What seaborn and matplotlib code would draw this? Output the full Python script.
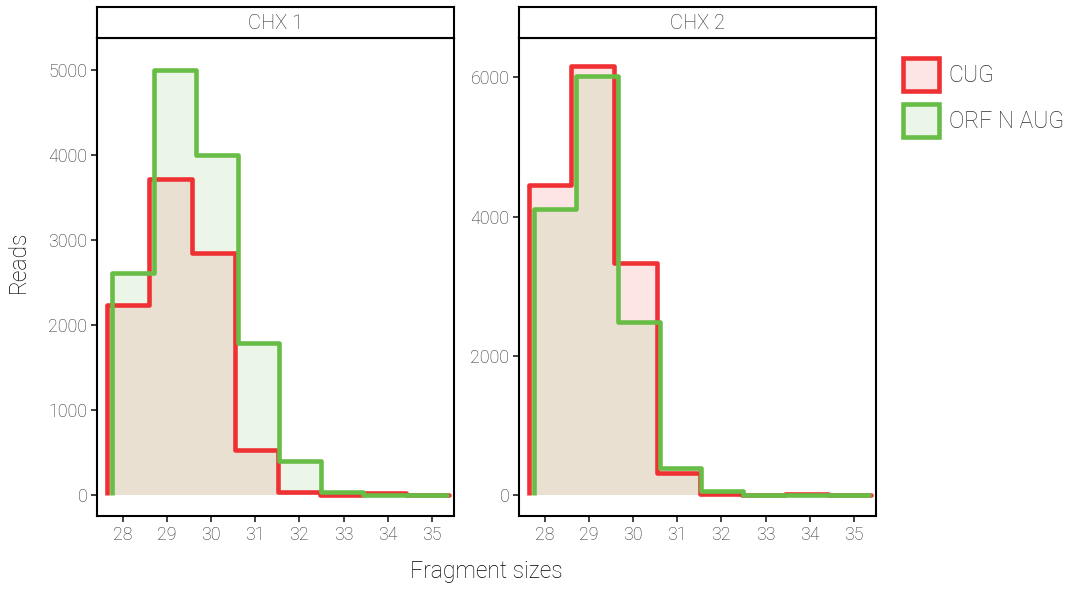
import numpy as np
import pandas as pd
import matplotlib
matplotlib.use("Agg")
import matplotlib.pyplot as plt
from matplotlib.patches import Patch
import seaborn as sns

# fragment length bins and read counts per facet / group
sizes = [28, 29, 30, 31, 32, 33, 34, 35]
facets = ["CHX 1", "CHX 2"]
groups = ["CUG", "ORF N AUG"]

chx1_cug = [2230, 3720, 2845, 535, 40, 5, 20, 0]
chx1_orf = [2610, 5000, 4000, 1790, 400, 35, 0, 0]
chx2_cug = [4450, 6160, 3340, 320, 20, 5, 10, 0]
chx2_orf = [4110, 6020, 2480, 390, 60, 0, 0, 0]

yticks = {"CHX 1": [0, 1000, 2000, 3000, 4000, 5000],
          "CHX 2": [0, 2000, 4000, 6000]}

colors = {"CUG": "#EF3134", "ORF N AUG": "#67BD45"}
bin_start = {"CUG": 27.64, "ORF N AUG": 27.75}
bin_width = {"CUG": 0.967, "ORF N AUG": 0.95}
ylims = {"CHX 1": (-247, 5376), "CHX 2": (-302, 6566)}

counts = {
    ("CHX 1", "CUG"): chx1_cug,
    ("CHX 1", "ORF N AUG"): chx1_orf,
    ("CHX 2", "CUG"): chx2_cug,
    ("CHX 2", "ORF N AUG"): chx2_orf,
}
rows = []
for (facet, group), vals in counts.items():
    for s, v in zip(sizes, vals):
        rows.append({"facet": facet, "group": group, "size": s, "reads": v})
df = pd.DataFrame(rows)

sns.set_theme(style="white")
plt.rcParams["font.family"] = ["Roboto", "DejaVu Sans"]
plt.rcParams["font.weight"] = "light"

fig = plt.figure(figsize=(10.8, 5.9), dpi=100)

TXT = "#2E2E2E"
LW = 3.3
panel_x = {"CHX 1": (97, 454), "CHX 2": (519, 876)}
W, H = 1080, 590
top_px, bot_px, strip_top = 38, 516, 7


def bin_edges(group):
    return [bin_start[group] + bin_width[group] * i for i in range(len(sizes) + 1)]


for facet in facets:
    x0, x1 = panel_x[facet]
    ax = fig.add_axes([x0 / W, 1 - bot_px / H, (x1 - x0) / W, (bot_px - top_px) / H])
    sub = df[df["facet"] == facet]

    # light fills first, outlines on top
    for group in groups:
        g = sub[sub["group"] == group]
        sns.histplot(data=g, x="size", weights="reads", bins=bin_edges(group), element="step",
                     fill=True, alpha=0.12, linewidth=0, color=colors[group], ax=ax)
    for group in groups:
        g = sub[sub["group"] == group]
        edges = bin_edges(group)
        sns.histplot(data=g, x="size", weights="reads", bins=edges, element="step",
                     fill=False, linewidth=LW, color=colors[group], ax=ax)
        ax.vlines(edges[0], 0, g["reads"].iloc[0], color=colors[group], linewidth=LW)

    ax.set_xlim(27.42, 35.5)
    ax.set_ylim(*ylims[facet])
    ax.set_xticks(sizes)
    ax.set_yticks(yticks[facet])
    ax.set_xlabel("")
    ax.set_ylabel("")
    ax.tick_params(axis="both", which="major", length=4, width=1.3, color="#333333",
                   labelsize=12.8, labelcolor=TXT, pad=3, bottom=True, left=True)
    for sp in ax.spines.values():
        sp.set_visible(True)
        sp.set_color("black")
        sp.set_linewidth(1.5)

    # facet strip
    sax = fig.add_axes([x0 / W, 1 - top_px / H, (x1 - x0) / W, (top_px - strip_top) / H])
    sax.set_xticks([])
    sax.set_yticks([])
    sax.set_facecolor("white")
    for sp in sax.spines.values():
        sp.set_visible(True)
        sp.set_color("black")
        sp.set_linewidth(1.5)
    sax.text(0.5, 0.47, facet, ha="center", va="center", fontsize=14.5, color=TXT,
             transform=sax.transAxes)

fig.text(18 / W, 1 - 261.5 / H, "Reads", rotation=90, ha="center", va="center",
         fontsize=16.5, color="black")
fig.text(486 / W, 1 - 578 / H, "Fragment sizes", ha="center", va="baseline",
         fontsize=16.5, color="black")

handles = [Patch(facecolor=matplotlib.colors.to_rgba(colors[g], 0.12),
                 edgecolor=colors[g], linewidth=LW, label=g) for g in groups]
fig.legend(handles=handles, loc="upper left", bbox_to_anchor=(903 / W, 1 - 58 / H),
           frameon=False, fontsize=16.5, handlelength=1.55, handleheight=1.85,
           handletextpad=0.45, labelspacing=0.55, borderpad=0, borderaxespad=0,
           labelcolor=TXT)

fig.savefig("out.png", dpi=100)
